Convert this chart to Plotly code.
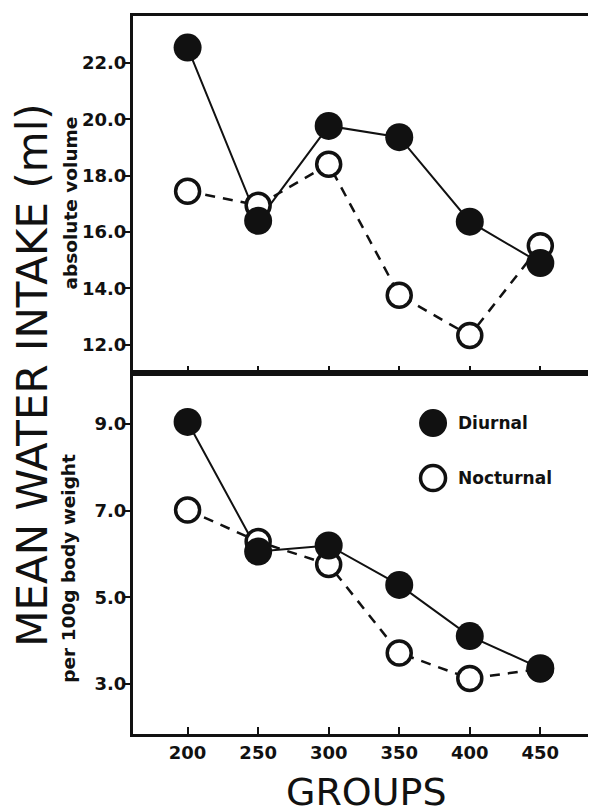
import plotly.graph_objects as go

groups = [200, 250, 300, 350, 400, 450]
diurnal_abs = [22.55, 16.4, 19.77, 19.37, 16.37, 14.9]
nocturnal_abs = [17.45, 16.95, 18.41, 13.76, 12.33, 15.52]
diurnal_rel = [9.05, 6.06, 6.2, 5.29, 4.11, 3.37]
nocturnal_rel = [7.02, 6.29, 5.76, 3.72, 3.13, 3.35]

top_ticks = [12.0, 14.0, 16.0, 18.0, 20.0, 22.0]
bottom_ticks = [3.0, 5.0, 7.0, 9.0]

INK = "#111111"
FONT = "DejaVu Sans"

fig = go.Figure()

def add_panel(xa, ya, diu, noc):
    fig.add_trace(go.Scatter(x=groups, y=noc, mode="lines", xaxis=xa, yaxis=ya,
                             line=dict(color=INK, width=2.5, dash="10px,8px"),
                             showlegend=False, hoverinfo="skip"))
    fig.add_trace(go.Scatter(x=groups, y=diu, mode="lines", xaxis=xa, yaxis=ya,
                             line=dict(color=INK, width=2),
                             showlegend=False, hoverinfo="skip"))
    fig.add_trace(go.Scatter(x=groups, y=noc, mode="markers", xaxis=xa, yaxis=ya,
                             name="Nocturnal",
                             marker=dict(size=24, color="white",
                                         line=dict(color=INK, width=3.5)),
                             showlegend=False))
    fig.add_trace(go.Scatter(x=groups, y=diu, mode="markers", xaxis=xa, yaxis=ya,
                             name="Diurnal",
                             marker=dict(size=28, color=INK, line=dict(width=0)),
                             showlegend=False))

add_panel("x", "y", diurnal_abs, nocturnal_abs)
add_panel("x2", "y2", diurnal_rel, nocturnal_rel)

split = 0.5028
tick_font = dict(family=FONT, size=18, color=INK, weight="bold")
common_x = dict(range=[161.3, 484.5], showline=True, linewidth=3, linecolor=INK,
                mirror=True, ticks="inside", ticklen=7, tickwidth=2, tickcolor=INK,
                tickvals=groups, showgrid=False, zeroline=False)
common_y = dict(showline=True, linewidth=3, linecolor=INK, mirror=True,
                ticks="outside", ticklen=6, tickwidth=2, tickcolor=INK,
                showgrid=False, zeroline=False, tickfont=tick_font,
                ticklabelstandoff=-6)

# page body has an 8px margin, so the figure is 8px smaller in each direction
fig.update_layout(
    width=588, height=801,
    margin=dict(l=125, r=4, t=8, b=75),
    paper_bgcolor="white", plot_bgcolor="white",
    showlegend=False,
    xaxis=dict(common_x, domain=[0, 1], anchor="y", showticklabels=False),
    yaxis=dict(common_y, domain=[split, 1], anchor="x", range=[11.0, 23.67],
               tickvals=top_ticks, ticktext=[f"{v:.1f}" for v in top_ticks]),
    xaxis2=dict(common_x, domain=[0, 1], anchor="y2",
                ticktext=[str(g) for g in groups], tickfont=tick_font),
    yaxis2=dict(common_y, domain=[0, split], anchor="x2", range=[1.85, 10.18],
                tickvals=bottom_ticks, ticktext=[f"{v:.1f}" for v in bottom_ticks]),
)

annotations = [
    dict(text="MEAN WATER INTAKE (ml)", x=(31 - 133) / 459, y=0.5, textangle=-90,
         font=dict(family=FONT, size=42, color=INK)),
    dict(text="<b>absolute volume</b>", x=-0.137, y=0.7396, textangle=-90,
         font=dict(family=FONT, size=18.5, color=INK)),
    dict(text="<b>per 100g body weight</b>", x=-0.141, y=0.2312, textangle=-90,
         font=dict(family=FONT, size=18.5, color=INK)),
    dict(text="GROUPS", x=(368 - 133) / 459, y=-0.081,
         font=dict(family=FONT, size=38, color=INK)),
    dict(text="<b>Diurnal</b>", x=0.708, y=0.4331, xanchor="left",
         font=dict(family=FONT, size=17, color=INK)),
    dict(text="<b>Nocturnal</b>", x=0.708, y=0.3565, xanchor="left",
         font=dict(family=FONT, size=17, color=INK)),
]
for a in annotations:
    a.setdefault("xanchor", "center")
    fig.add_annotation(xref="paper", yref="paper", yanchor="middle",
                       showarrow=False, **a)

fig.add_shape(type="circle", xref="paper", yref="paper", xsizemode="pixel",
              ysizemode="pixel", xanchor=0.658, yanchor=0.4331,
              x0=-14, x1=14, y0=-14, y1=14, fillcolor=INK, line=dict(width=0))
fig.add_shape(type="circle", xref="paper", yref="paper", xsizemode="pixel",
              ysizemode="pixel", xanchor=0.658, yanchor=0.3565,
              x0=-12.5, x1=12.5, y0=-12.5, y1=12.5, fillcolor="white",
              line=dict(color=INK, width=3.5))

fig.write_html("out.html")
